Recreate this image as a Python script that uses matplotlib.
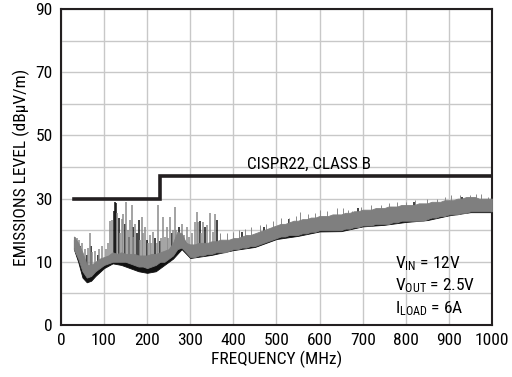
import numpy as np
import matplotlib.pyplot as plt
from matplotlib import font_manager

names = {f.name for f in font_manager.fontManager.ttflist}
fam = 'Liberation Sans'
for cand in ['Liberation Sans Narrow', 'Roboto Condensed', 'Open Sans Condensed']:
    if cand in names:
        fam = cand
        break
plt.rcParams['font.family'] = [fam, 'DejaVu Sans']
plt.rcParams['mathtext.fontset'] = 'custom'
plt.rcParams['mathtext.rm'] = fam

# noise floor envelope of the gray trace (MHz, dBuV/m)
freq = [30, 40, 50, 60, 70, 80, 90, 100, 110, 120, 130, 140, 150, 160, 170, 180, 190, 200,
        210, 220, 230, 240, 250, 260, 270, 280, 290, 300, 310, 320, 330, 340, 350, 360, 370,
        380, 390, 400, 410, 420, 430, 440, 450, 460, 470, 480, 490, 500, 510, 520, 530, 540,
        550, 560, 570, 580, 590, 600, 610, 620, 630, 640, 650, 660, 670, 680, 690, 700, 710,
        720, 730, 740, 750, 760, 770, 780, 790, 800, 810, 820, 830, 840, 850, 860, 870, 880,
        890, 900, 910, 920, 930, 940, 950, 960, 970, 980, 990, 1000]
gray_lo = [14, 11, 7, 5, 5.5, 7, 8, 9, 9.5, 10, 10, 10, 10, 9.5, 9, 8.5, 8.5, 8,
           8.5, 9, 10, 10, 11, 12, 14, 14.5, 13, 11.5, 11.5, 12, 12, 12.5, 12.5, 13, 13,
           13, 13.5, 14, 14, 14.5, 14.5, 15, 15, 15.5, 16, 16.5, 17, 17.5, 18, 18, 18.5, 18.5,
           18.5, 19, 19, 19.5, 19.5, 20, 20, 20, 20, 20, 20, 20.5, 20.5, 21, 21, 21.5, 21.5,
           21.5, 22, 22, 22, 22, 22.5, 22.5, 23, 23, 23, 23, 23, 23, 23.5, 24, 24, 24.5,
           24.5, 25, 25, 25, 25.5, 25.5, 26, 26, 26, 26, 26, 26]
gray_hi = [18, 16, 13, 9, 9, 10, 11, 11.5, 12, 13, 12.5, 13, 12.5, 12.5, 12.5, 12, 12, 12,
           12.5, 12.5, 13, 13.5, 14, 16, 19.5, 19, 16, 15.5, 15.5, 16, 16, 16, 16.5, 16.5, 17,
           17, 17, 17.5, 17.5, 18, 18.5, 18.5, 19, 19.5, 20, 20.5, 21, 21.5, 22, 22, 22.5, 23,
           23, 23.5, 23.5, 24, 24, 24.5, 24.5, 24.5, 25, 25, 25, 25.5, 25.5, 26, 26, 26.5, 26.5,
           26.5, 27, 27, 27, 27.5, 27.5, 27.5, 28, 28, 28, 28, 28.5, 28.5, 28.5, 29, 29, 29,
           29.5, 29.5, 29.5, 30, 30, 30.5, 30.5, 30.5, 30, 30, 30, 30]

# black trace envelope (mostly hidden, shows along the lower edge)
freq_k = [30, 40, 50, 60, 70, 80, 100, 120, 140, 160, 180, 200, 220, 240, 260, 280, 300,
          350, 400, 450, 500, 550, 600, 650, 700, 750, 800, 850, 900, 950, 1000]
black_lo = [14, 10, 5, 3.5, 4, 5.5, 8, 9.5, 9, 8, 7, 6.5, 7, 9, 11, 14, 11.2,
            12.2, 13.7, 14.7, 17.2, 18.2, 19.6, 19.7, 21.2, 21.7, 22.6, 23.2, 24.7, 25.7, 25.7]
black_hi = [17, 14, 10, 8, 7.5, 9, 11, 12.5, 12, 11.5, 11, 10.5, 11, 12.5, 15, 18, 14,
            15, 16, 17.5, 20, 21.5, 23, 23.5, 24.5, 25.5, 26, 27, 27.5, 28.5, 28]

# spikes: frequency and peak level
gray_spk_f = [32, 35, 38, 42, 48, 55, 63, 67, 72, 80, 88, 95, 105, 110, 114, 118, 130, 137,
              141, 145, 152, 156, 160, 164, 168, 172, 183, 187, 191, 195, 203, 206, 210, 214,
              222, 226, 233, 237, 241, 245, 249, 253, 260, 264, 268, 280, 286, 292, 297, 305,
              311, 315, 319, 326, 330, 338, 345, 352, 357]
gray_spk_t = [18, 17, 17.5, 17, 16, 14, 14.5, 19, 13, 13.5, 14, 15, 14, 16, 23, 23.2, 25.3, 19,
              23.5, 25, 29, 20, 23.2, 28, 18, 22, 17, 24.3, 19, 21, 16, 18.5, 16, 19.5,
              16, 28, 17.5, 24.3, 18, 21, 17.5, 24.3, 20, 27.4, 20, 22, 18.5, 21, 18, 19,
              22.7, 25.9, 22.7, 19, 22.7, 21.5, 25.3, 19.5, 25]
# fine fuzz on the upper edge above 350 MHz
fuzz_f = [370, 385, 400, 412, 428, 440, 462, 475, 492, 510, 528, 545, 555, 572, 590, 600, 618,
          640, 655, 666, 675, 697, 720, 742, 760, 780, 800, 822, 850, 872, 890, 905, 925, 950,
          962, 975, 990]
fuzz_t = [19, 19, 19.5, 20, 20.5, 21, 21.5, 22, 23, 24, 24, 24.5, 25.9, 25, 25.5, 26.5, 26,
          27, 27, 26.4, 26, 27.5, 28, 28, 28.5, 29, 29, 29.5, 30, 30, 30.5, 31, 31, 31,
          31.5, 31.5, 30.5]
black_spk_f = [45, 60, 70, 85, 122, 125, 128, 134, 148, 158, 168, 176, 180, 200, 218, 230,
               258, 275, 322, 334, 363, 420, 470, 530, 690, 820, 930]
black_spk_t = [15, 12, 15, 12, 26, 29, 28.5, 24, 22, 18, 21, 19, 23.2, 17, 17.5, 16.5,
               19, 21, 23, 21.1, 23.2, 19.5, 21, 23.5, 27, 29, 30.5]

# CISPR22 class B limit
lim_f = [30, 230, 230, 1000]
lim_v = [30, 30, 37, 37]

yticks = [-10, 10, 30, 50, 70, 90]
ytick_labels = ['0', '10', '30', '50', '70', '90']

fig = plt.figure(figsize=(5.12, 3.77), dpi=100)
ax = fig.add_axes([0.119, 0.138, 0.842, 0.838])

ax.fill_between(freq_k, black_lo, black_hi, color='#111111', lw=0.6, zorder=2)
base_k = np.interp(black_spk_f, freq, gray_lo) + 1
ax.vlines(black_spk_f, base_k, black_spk_t, color='#111111', lw=1.1, zorder=3)
ax.fill_between(freq, gray_lo, gray_hi, color='#7f7f7f', lw=0.6, zorder=4)
base_g = np.interp(gray_spk_f, freq, gray_lo) + 1
ax.vlines(gray_spk_f, base_g, gray_spk_t, color='#8a8a8a', lw=1.1, zorder=3)
base_z = np.interp(fuzz_f, freq, gray_lo) + 1
ax.vlines(fuzz_f, base_z, fuzz_t, color='#8a8a8a', lw=0.7, zorder=3)

ax.plot(lim_f, lim_v, color='#231f20', lw=2.6, zorder=5, solid_joinstyle='miter')
ax.text(575, 39.3, 'CISPR22, CLASS B', ha='center', va='baseline', fontsize=12.3)

ax.text(775, 2.3, '$\\mathrm{V_{IN}}$ = 12V\n$\\mathrm{V_{OUT}}$ = 2.5V\n$\\mathrm{I_{LOAD}}$ = 6A',
        ha='left', va='center', fontsize=12.5, linespacing=1.25)

ax.set_xlim(0, 1000)
ax.set_ylim(-10, 90)
ax.set_xticks(np.arange(0, 1001, 100))
ax.set_yticks(yticks)
ax.set_yticklabels(ytick_labels)
ax.set_yticks(np.arange(0, 81, 20), minor=True)
ax.grid(True, which='both', color='#c8c8c8', lw=1.0, zorder=0)
ax.set_axisbelow(True)
ax.tick_params(which='both', length=0, labelsize=12.5, pad=6)
for s in ax.spines.values():
    s.set_linewidth(1.5)
    s.set_color('#231f20')

ax.set_xlabel('FREQUENCY (MHz)', fontsize=12.5, labelpad=2)
ax.set_ylabel('EMISSIONS LEVEL (dBμV/m)', fontsize=12.5, labelpad=4)

fig.savefig('out.png', dpi=100)
